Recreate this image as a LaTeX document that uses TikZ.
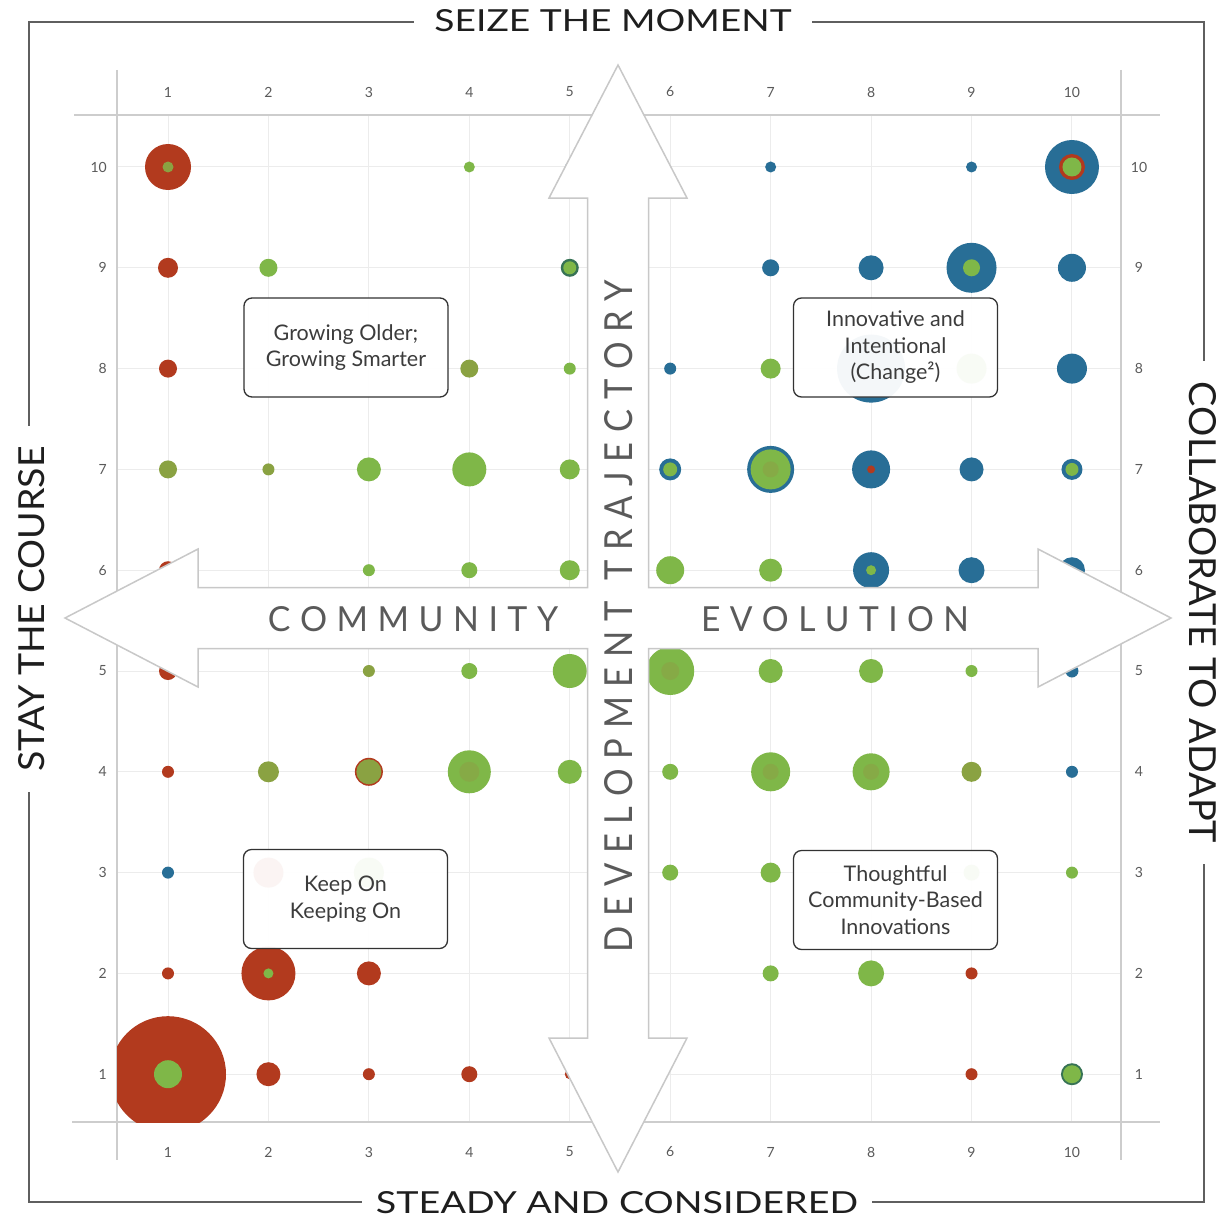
\documentclass[tikz,border=0pt]{standalone}
\usepackage{fontspec}
\setmainfont{Lato}
\usepackage{graphicx}
\definecolor{cred}{RGB}{178,58,30}
\definecolor{cgreen}{RGB}{127,183,72}
\definecolor{colive}{RGB}{138,162,66}
\definecolor{cmid}{RGB}{134,170,70}
\definecolor{cblue}{RGB}{40,110,150}
\definecolor{cdkgreen}{RGB}{55,115,85}
\definecolor{framegray}{RGB}{95,95,95}
\definecolor{arrgray}{RGB}{200,200,200}
\definecolor{gridin}{RGB}{236,236,236}
\definecolor{gridout}{RGB}{205,205,205}
\definecolor{labgray}{RGB}{90,90,90}
\definecolor{boxtext}{RGB}{60,60,60}
\newcommand\lk{\kern0.28em}
\newcommand\bub[4]{\fill[#4] ({168+(#1-1)*100.44},{167+(10-#2)*100.8}) circle (#3pt);}
\begin{document}
\begin{tikzpicture}[x=1pt,y=-1pt,
  frameline/.style={draw=framegray,line width=2pt},
  gin/.style={draw=gridin,line width=1pt},
  gout/.style={draw=gridout,line width=1.2pt},
  axlab/.style={inner sep=0pt,text=labgray,font=\fontsize{14}{16}\selectfont},
  ttl/.style={fill=white,inner ysep=2pt,text={rgb,255:red,30;green,30;blue,30}},
  arrlab/.style={inner sep=0pt,text=labgray},
  bigarrow/.style={draw=arrgray,line width=1.5pt,fill=white,line join=miter},
  lbox/.style={draw={rgb,255:red,50;green,50;blue,50},line width=1.3pt,rounded corners=8pt,
     fill=white,fill opacity=0.95,text opacity=1,align=center,text=boxtext,
     minimum width=204pt,minimum height=99pt,inner sep=0pt,
     font=\fontsize{21.5}{26.5}\selectfont}]
\useasboundingbox (0,0) rectangle (1230,1225);
\fill[white] (0,0) rectangle (1230,1225);
% frame
\draw[frameline] (29,22) rectangle (1204,1202);
% grid
\foreach \c in {1,...,10} {
  \draw[gin] ({168+(\c-1)*100.44},115) -- ({168+(\c-1)*100.44},1122);
  \draw[gin] (117,{167+(10-\c)*100.8}) -- (1121,{167+(10-\c)*100.8});
}
\draw[gout] (74,115) -- (1160,115);
\draw[gout] (72,1122) -- (1160,1122);
\draw[gout] (117,70) -- (117,1160);
\draw[gout] (1121,70) -- (1121,1160);
% axis labels
\foreach \c in {1,...,10} {
  \node[axlab] (top\c) at ({168+(\c-1)*100.44},92) {\c};
  \node[axlab] (bot\c) at ({168+(\c-1)*100.44},1152) {\c};
  \node[axlab,anchor=east] (lft\c) at (107,{167+(10-\c)*100.8}) {\c};
  \node[axlab] (rgt\c) at (1139,{167+(10-\c)*100.8}) {\c};
}
% bubbles
\begin{scope}
\clip (117,115) rectangle (1121,1122);
% row 10
\bub{1}{10}{23}{cred} \bub{1}{10}{5.5}{colive}
\bub{4}{10}{5.5}{cgreen}
\bub{5}{10}{5}{cblue}
\bub{7}{10}{5.5}{cblue}
\bub{9}{10}{5.5}{cblue}
\bub{10}{10}{27}{cblue} \bub{10}{10}{13}{cred} \bub{10}{10}{9.5}{cgreen}
% row 9
\bub{1}{9}{10}{cred}
\bub{2}{9}{9}{cgreen}
\bub{5}{9}{9}{cdkgreen} \bub{5}{9}{6.5}{cgreen}
\bub{7}{9}{8.5}{cblue}
\bub{8}{9}{12.5}{cblue}
\bub{9}{9}{25}{cblue} \bub{9}{9}{8.5}{cgreen}
\bub{10}{9}{14}{cblue}
% row 8
\bub{1}{8}{9}{cred}
\bub{4}{8}{9}{colive}
\bub{5}{8}{6}{cgreen}
\bub{6}{8}{6}{cblue}
\bub{7}{8}{10}{cgreen}
\bub{8}{8}{34}{cblue}
\bub{9}{8}{15}{cgreen}
\bub{10}{8}{15}{cblue}
% row 7
\bub{1}{7}{9}{colive}
\bub{2}{7}{6}{colive}
\bub{3}{7}{12}{cgreen}
\bub{4}{7}{17}{cgreen}
\bub{5}{7}{10}{cgreen}
\bub{6}{7}{11}{cblue} \bub{6}{7}{7}{cgreen}
\bub{7}{7}{23.5}{cblue} \bub{7}{7}{20}{cgreen} \bub{7}{7}{8}{cmid}
\bub{8}{7}{19}{cblue} \bub{8}{7}{4}{cred}
\bub{9}{7}{12}{cblue}
\bub{10}{7}{10.5}{cblue} \bub{10}{7}{6.5}{cgreen}
% row 6
\bub{1}{6}{9}{cred}
\bub{3}{6}{6}{cgreen}
\bub{4}{6}{8}{cgreen}
\bub{5}{6}{10}{cgreen}
\bub{6}{6}{14}{cgreen}
\bub{7}{6}{11.5}{cgreen}
\bub{8}{6}{18}{cblue} \bub{8}{6}{5}{cgreen}
\bub{9}{6}{13}{cblue}
\bub{10}{6}{13}{cblue}
% row 5
\bub{1}{5}{9}{cred}
\bub{3}{5}{6}{colive}
\bub{4}{5}{8}{cgreen}
\bub{5}{5}{17}{cgreen}
\bub{6}{5}{24}{cgreen} \bub{6}{5}{9}{cmid}
\bub{7}{5}{12}{cgreen}
\bub{8}{5}{12}{cgreen}
\bub{9}{5}{6}{cgreen}
\bub{10}{5}{6.5}{cblue}
% row 4
\bub{1}{4}{6}{cred}
\bub{2}{4}{10.5}{colive}
\bub{3}{4}{14}{cred} \bub{3}{4}{12.5}{colive}
\bub{4}{4}{21.5}{cgreen} \bub{4}{4}{10}{cmid}
\bub{5}{4}{12}{cgreen}
\bub{6}{4}{8}{cgreen}
\bub{7}{4}{19.5}{cgreen} \bub{7}{4}{8}{cmid}
\bub{8}{4}{18.5}{cgreen} \bub{8}{4}{8}{cmid}
\bub{9}{4}{10}{colive}
\bub{10}{4}{6}{cblue}
% row 3
\bub{1}{3}{6}{cblue}
\bub{2}{3}{15}{cred}
\bub{3}{3}{15}{cgreen}
\bub{6}{3}{8}{cgreen}
\bub{7}{3}{10}{cgreen}
\bub{9}{3}{8}{cgreen}
\bub{10}{3}{6}{cgreen}
% row 2
\bub{1}{2}{6}{cred}
\bub{2}{2}{27}{cred} \bub{2}{2}{5}{cgreen}
\bub{3}{2}{12}{cred}
\bub{7}{2}{8}{cgreen}
\bub{8}{2}{13}{cgreen}
\bub{9}{2}{6}{cred}
% row 1
\bub{1}{1}{58}{cred} \bub{1}{1}{14}{cgreen}
\bub{2}{1}{12}{cred}
\bub{3}{1}{6}{cred}
\bub{4}{1}{8}{cred}
\bub{5}{1}{5}{cred}
\bub{9}{1}{6}{cred}
\bub{10}{1}{11}{cdkgreen} \bub{10}{1}{9}{cgreen}
\end{scope}
% big cross arrow
\draw[bigarrow] (618,65) -- (687,198) -- (648.5,198) -- (648.5,587.5) -- (1038,587.5)
  -- (1038,549) -- (1171,618) -- (1038,687) -- (1038,648.5) -- (648.5,648.5)
  -- (648.5,1038) -- (687,1038) -- (618,1172) -- (549,1038) -- (587.5,1038)
  -- (587.5,648.5) -- (198,648.5) -- (198,687) -- (65,618) -- (198,549)
  -- (198,587.5) -- (587.5,587.5) -- (587.5,198) -- (549,198) -- cycle;
\node[arrlab] (comm) at (413,619.5) {\resizebox{290pt}{25pt}{C\lk O\lk M\lk M\lk U\lk N\lk I\lk T\lk Y}};
\node[arrlab] (evo) at (835,619) {\resizebox{268pt}{25pt}{E\lk V\lk O\lk L\lk U\lk T\lk I\lk O\lk N}};
\node[arrlab,rotate=90] (dev) at (619,616) {\resizebox{672pt}{28pt}{D\lk E\lk V\lk E\lk L\lk O\lk P\lk M\lk E\lk N\lk T\hspace{0.6em}T\lk R\lk A\lk J\lk E\lk C\lk T\lk O\lk R\lk Y}};
% labelled boxes
\node[lbox] (older) at (346,347.5) {Growing Older;\\Growing Smarter};
\node[lbox] (innov) at (895.5,347.5) {Innovative and\\Intentional\\(Change²)};
\node[lbox] (keep) at (345.5,899) {Keep On\\Keeping On};
\node[lbox] (thought) at (895.5,900) {Thoughtful\\Community-Based\\Innovations};
% frame titles
\node[ttl,inner xsep=20pt] (seize) at (613,21) {\resizebox{357pt}{22pt}{SEIZE THE MOMENT}};
\node[ttl,inner xsep=14pt] (steady) at (617,1202.5) {\resizebox{482pt}{22pt}{STEADY AND CONSIDERED}};
\node[ttl,rotate=90,inner xsep=20pt] (stay) at (32,609) {\resizebox{325pt}{26pt}{STAY THE COURSE}};
\node[ttl,rotate=-90,inner xsep=21pt] (collab) at (1203,612.5) {\resizebox{461pt}{27pt}{COLLABORATE TO ADAPT}};
\end{tikzpicture}
\end{document}
